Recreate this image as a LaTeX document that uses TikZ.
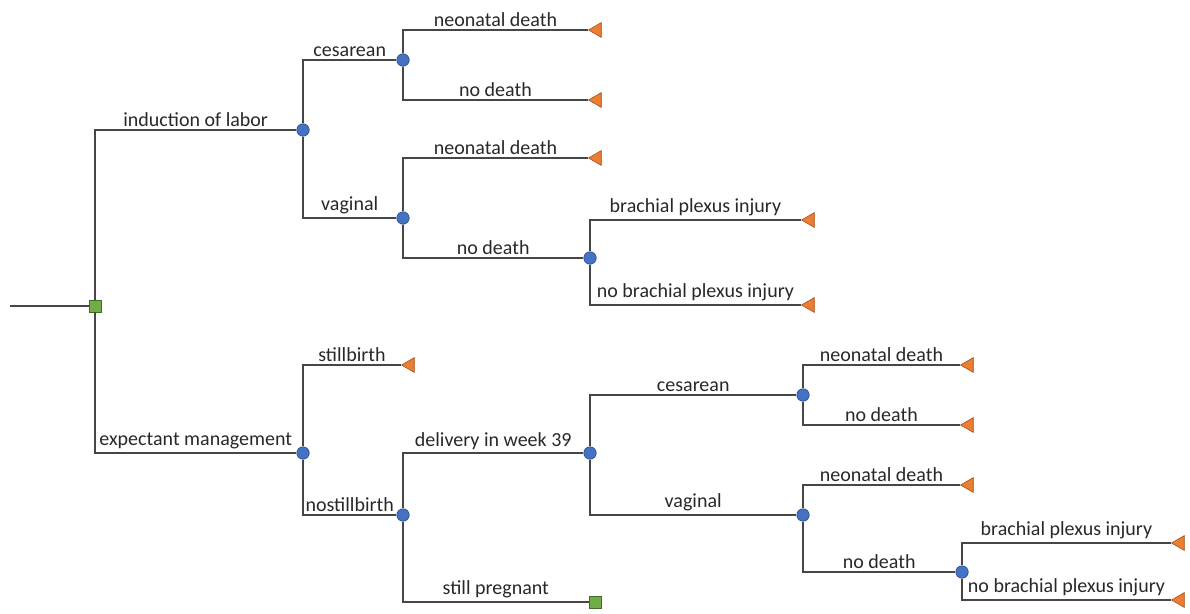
\documentclass[tikz,border=0pt]{standalone}
\usepackage{fontspec}
\setmainfont{Carlito}
\usepackage{tikz}
\usetikzlibrary{shapes.geometric, positioning}
\definecolor{linegray}{RGB}{70, 70, 70}
\definecolor{decfill}{RGB}{112, 173, 71}
\definecolor{decdraw}{RGB}{60, 110, 40}
\definecolor{chfill}{RGB}{68, 114, 196}
\definecolor{chdraw}{RGB}{40, 70, 130}
\definecolor{termfill}{RGB}{237, 125, 49}
\definecolor{termdraw}{RGB}{160, 80, 30}
\definecolor{txt}{RGB}{40, 40, 40}

\begin{document}
\begin{tikzpicture}[
    x=1pt, y=-1pt,
    decision/.style={rectangle, draw=decdraw, fill=decfill, line width=0.8pt, minimum size=12pt, inner sep=0pt},
    chance/.style={circle, draw=chdraw, fill=chfill, line width=0.6pt, minimum size=12.5pt, inner sep=0pt},
    terminal/.style={regular polygon, regular polygon sides=3, shape border rotate=90, draw=termdraw, fill=termfill, line width=0.6pt, minimum size=17pt, inner sep=0pt},
    branch/.style={draw=linegray, line width=1.5pt},
    lbl/.style={anchor=south, inner sep=3pt, text=txt, font=\fontsize{20}{24}\selectfont}
]
    \useasboundingbox (0,0) rectangle (1190,613);

    % Decision and chance nodes
    \coordinate (start) at (10,306);
    \node (dec) [decision] at (95,306) {};
    \node (ind) [chance] at (303,130) {};
    \node (exp) [chance] at (303,453) {};
    \node (indCes) [chance] at (403,60) {};
    \node (indVag) [chance] at (403,218) {};
    \node (indVagNo) [chance] at (590,258) {};
    \node (expNo) [chance] at (403,515) {};
    \node (expDel) [chance] at (590,453) {};
    \node (preg) [decision] at (595,602) {};
    \node (expDelCes) [chance] at (803,395) {};
    \node (expDelVag) [chance] at (803,515) {};
    \node (expDelVagNo) [chance] at (962,572) {};

    % Terminal nodes
    \node (t1) [terminal] at (597,30) {};
    \node (t2) [terminal] at (597,100) {};
    \node (t3) [terminal] at (597,158) {};
    \node (t4) [terminal] at (810,220) {};
    \node (t5) [terminal] at (810,305) {};
    \node (t6) [terminal] at (410,365) {};
    \node (t7) [terminal] at (969,365) {};
    \node (t8) [terminal] at (969,425) {};
    \node (t9) [terminal] at (969,485) {};
    \node (t10) [terminal] at (1180,543) {};
    \node (t11) [terminal] at (1180,600) {};

    % Branches
    \draw [branch] (start) -- (dec);
    \draw [branch] (dec) |- node [lbl, pos=0.75] {induction of labor} (ind);
    \draw [branch] (dec) |- node [lbl, pos=0.75] {expectant management} (exp);

    \draw [branch] (ind) |- node [lbl, pos=0.75] {cesarean} (indCes);
    \draw [branch] (ind) |- node [lbl, pos=0.75] {vaginal} (indVag);
    \draw [branch] (indCes) |- node [lbl, pos=0.75] {neonatal death} (t1);
    \draw [branch] (indCes) |- node [lbl, pos=0.75] {no death} (t2);
    \draw [branch] (indVag) |- node [lbl, pos=0.75] {neonatal death} (t3);
    \draw [branch] (indVag) |- node [lbl, pos=0.75] {no death} (indVagNo);
    \draw [branch] (indVagNo) |- node [lbl, pos=0.75] {brachial plexus injury} (t4);
    \draw [branch] (indVagNo) |- node [lbl, pos=0.75] {no brachial plexus injury} (t5);

    \draw [branch] (exp) |- node [lbl, pos=0.75] {stillbirth} (t6);
    \draw [branch] (exp) |- node [lbl, pos=0.75] {nostillbirth} (expNo);
    \draw [branch] (expNo) |- node [lbl, pos=0.75] {delivery in week 39} (expDel);
    \draw [branch] (expNo) |- node [lbl, pos=0.75] {still pregnant} (preg);
    \draw [branch] (expDel) |- node [lbl, pos=0.75] {cesarean} (expDelCes);
    \draw [branch] (expDel) |- node [lbl, pos=0.75] {vaginal} (expDelVag);
    \draw [branch] (expDelCes) |- node [lbl, pos=0.75] {neonatal death} (t7);
    \draw [branch] (expDelCes) |- node [lbl, pos=0.75] {no death} (t8);
    \draw [branch] (expDelVag) |- node [lbl, pos=0.75] {neonatal death} (t9);
    \draw [branch] (expDelVag) |- node [lbl, pos=0.75] {no death} (expDelVagNo);
    \draw [branch] (expDelVagNo) |- node [lbl, pos=0.75] {brachial plexus injury} (t10);
    \draw [branch] (expDelVagNo) |- node [lbl, pos=0.75] {no brachial plexus injury} (t11);
\end{tikzpicture}
\end{document}
